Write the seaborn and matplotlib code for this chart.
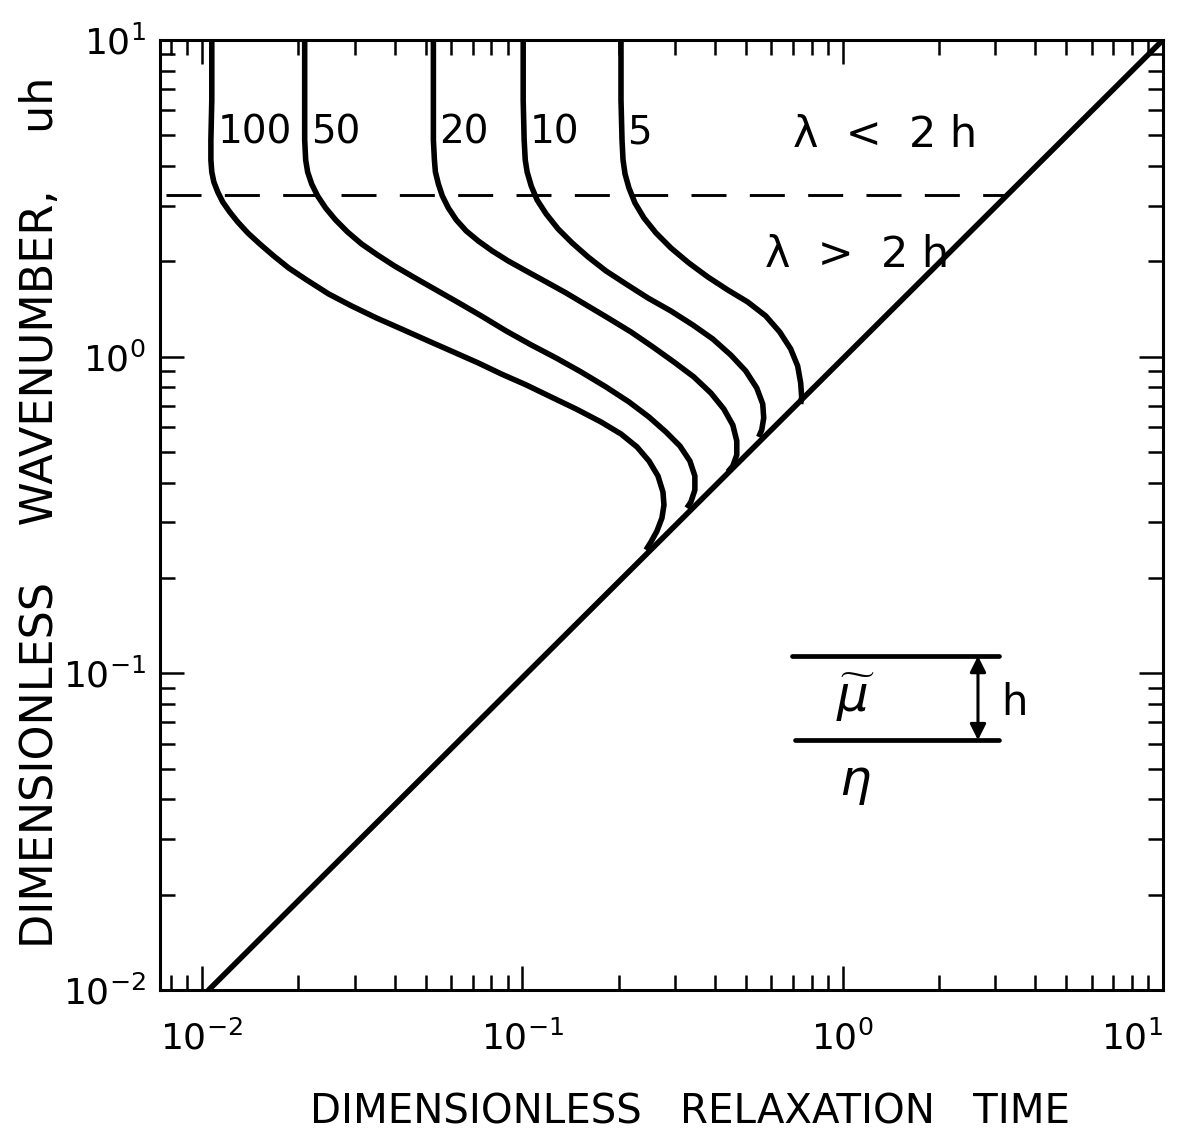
import numpy as np
import pandas as pd
import matplotlib
matplotlib.use("Agg")
import matplotlib.pyplot as plt
import seaborn as sns

# ---- data ----
curve_labels = ["100", "50", "20", "10", "5"]

c100_x = [0.01074, 0.01074, 0.01067, 0.01067, 0.01074, 0.01090, 0.01121, 0.01162, 0.01222,
          0.01294, 0.01391, 0.01516, 0.01676, 0.01866, 0.02124, 0.02487, 0.02933, 0.03508,
          0.04199, 0.05095, 0.06096, 0.07294, 0.08603, 0.1029, 0.1231, 0.1473, 0.1762,
          0.2034, 0.2282, 0.2487, 0.2653, 0.2750, 0.2770, 0.2730, 0.2634, 0.2523, 0.2434]
c100_y = [10, 6.465, 4.833, 4.179, 3.830, 3.561, 3.311, 3.079, 2.863,
          2.663, 2.459, 2.270, 2.080, 1.906, 1.747, 1.578, 1.446, 1.325,
          1.223, 1.121, 1.035, 0.9552, 0.8819, 0.8143, 0.7459, 0.6836, 0.6220,
          0.5700, 0.5187, 0.4685, 0.4200, 0.3738, 0.3401, 0.3095, 0.2815, 0.2600, 0.2453]

c50_x = [0.02094, 0.02094, 0.02094, 0.02109, 0.02139, 0.02202, 0.02298, 0.02434, 0.02615,
         0.02849, 0.03151, 0.03534, 0.03993, 0.04574, 0.05320, 0.06273, 0.07451, 0.08917,
         0.1067, 0.1276, 0.1527, 0.1826, 0.2154, 0.2487, 0.2810, 0.3106, 0.3337, 0.3459,
         0.3459, 0.3361, 0.3266]
c50_y = [10, 6.465, 4.833, 4.179, 3.830, 3.510, 3.217, 2.948, 2.702,
         2.476, 2.270, 2.095, 1.934, 1.785, 1.636, 1.488, 1.345, 1.205,
         1.089, 0.9905, 0.8948, 0.8024, 0.7196, 0.6449, 0.5783, 0.5224, 0.4685, 0.4200,
         0.3793, 0.3476, 0.3328]

c20_x = [0.05281, 0.05281, 0.05281, 0.05320, 0.05358, 0.05474, 0.05633, 0.05881, 0.06228,
         0.06688, 0.07294, 0.08063, 0.09046, 0.1029, 0.1188, 0.1371, 0.1583, 0.1853,
         0.2185, 0.2559, 0.2975, 0.3434, 0.3880, 0.4259, 0.4543, 0.4675, 0.4675, 0.4543,
         0.4382]
c20_y = [10, 6.465, 4.833, 4.179, 3.830, 3.510, 3.217, 2.948, 2.702,
         2.494, 2.319, 2.157, 2.005, 1.865, 1.722, 1.589, 1.457, 1.325,
         1.197, 1.073, 0.9622, 0.8629, 0.7679, 0.6836, 0.6085, 0.5418, 0.4894, 0.4518,
         0.4325]

c10_x = [0.1007, 0.1007, 0.1014, 0.1022, 0.1036, 0.1067, 0.1113, 0.1188, 0.1295, 0.1432,
         0.1606, 0.1826, 0.2109, 0.2469, 0.2912, 0.3410, 0.3936, 0.4478, 0.4986, 0.5396,
         0.5634, 0.5674, 0.5593, 0.5473]
c10_y = [10, 6.465, 4.833, 4.179, 3.830, 3.459, 3.125, 2.822, 2.530, 2.286,
         2.064, 1.865, 1.696, 1.532, 1.394, 1.259, 1.137, 1.012, 0.9012, 0.7965,
         0.7088, 0.6406, 0.5868, 0.5577]

c5_x = [0.2034, 0.2034, 0.2049, 0.2064, 0.2094, 0.2154, 0.2249, 0.2399, 0.2615, 0.2912,
        0.3313, 0.3797, 0.4382, 0.5058, 0.5755, 0.6364, 0.6887, 0.7241, 0.7400, 0.7453,
        0.7400]
c5_y = [10, 6.465, 4.833, 4.179, 3.775, 3.408, 3.057, 2.741, 2.459, 2.204,
        1.976, 1.785, 1.624, 1.488, 1.345, 1.197, 1.058, 0.9346, 0.8258, 0.7459,
        0.7088]

diag_x = [0.0105, 10.0]
diag_y = [0.01, 10.0]

dash_x = [0.0077, 3.25]
dash_y = [3.25, 3.25]

x_ticks = [0.01, 0.1, 1, 10]
y_ticks = [0.01, 0.1, 1, 10]

# ---- build long table ----
frames = []
for lab, xs, ys in zip(curve_labels,
                       [c100_x, c50_x, c20_x, c10_x, c5_x],
                       [c100_y, c50_y, c20_y, c10_y, c5_y]):
    frames.append(pd.DataFrame({"x": xs, "y": ys, "curve": lab}))
curves = pd.concat(frames, ignore_index=True)

sns.set_style("ticks")
plt.rcParams["font.family"] = ["DejaVu Sans"]
plt.rcParams["mathtext.fontset"] = "dejavusans"
for key in ["text.color", "axes.labelcolor", "xtick.color", "ytick.color", "axes.edgecolor"]:
    plt.rcParams[key] = "black"

fig = plt.figure(figsize=(11.78, 11.33), dpi=100)
ax = fig.add_axes([0.1358, 0.1262, 0.8514, 0.8385])
ax.set_xscale("log")
ax.set_yscale("log")
ax.set_xlim(0.0074, 10)
ax.set_ylim(0.01, 10)

sns.lineplot(data=curves, x="x", y="y", units="curve", estimator=None, sort=False,
             color="black", linewidth=4.0, ax=ax, legend=False)
for ln in ax.lines:
    ln.set_solid_joinstyle("round")
    ln.set_solid_capstyle("butt")

sns.lineplot(x=diag_x, y=diag_y, color="black", linewidth=4.0, ax=ax, sort=False)
sns.lineplot(x=dash_x, y=dash_y, color="black", linewidth=2.1, ax=ax, sort=False)
ax.lines[-1].set_dashes((12, 8))

# curve labels
for lab, xs in zip(curve_labels, [c100_x, c50_x, c20_x, c10_x, c5_x]):
    ax.text(xs[0] * 1.045, 5.1, lab, fontsize=28, ha="left", va="center")

ax.text(0.723, 0.90, "λ  <  2 h", transform=ax.transAxes, fontsize=31,
        ha="center", va="center")
ax.text(0.695, 0.774, "λ  >  2 h", transform=ax.transAxes, fontsize=31,
        ha="center", va="center")

# inset sketch
ax.plot([0.630, 0.837], [0.3516, 0.3516], color="black", lw=3.4, transform=ax.transAxes)
ax.plot([0.633, 0.837], [0.263, 0.263], color="black", lw=3.4, transform=ax.transAxes)
ax.annotate("", xy=(0.8156, 0.3516), xytext=(0.8156, 0.263), xycoords="axes fraction",
            arrowprops=dict(arrowstyle="<|-|>", color="black", lw=2.2,
                            mutation_scale=24, shrinkA=0, shrinkB=0))
ax.text(0.852, 0.302, "h", transform=ax.transAxes, fontsize=30, ha="center", va="center")
ax.text(0.693, 0.307, r"$\widetilde{\mu}$", transform=ax.transAxes, fontsize=36,
        ha="center", va="center")
ax.text(0.693, 0.218, r"$\eta$", transform=ax.transAxes, fontsize=36,
        ha="center", va="center")

ax.set_xticks(x_ticks)
ax.set_yticks(y_ticks)
ax.tick_params(which="both", direction="in", top=True, right=True, width=1.8)
ax.tick_params(which="major", length=17, labelsize=26)
ax.tick_params(which="minor", length=11)
ax.tick_params(axis="x", which="major", pad=22)
ax.tick_params(axis="y", which="major", pad=10)
ax.xaxis.get_major_ticks()[-1].label1.set_horizontalalignment("right")
for s in ax.spines.values():
    s.set_linewidth(2.2)

ax.set_xlabel("DIMENSIONLESS   RELAXATION   TIME", fontsize=29)
ax.set_ylabel("DIMENSIONLESS    WAVENUMBER,    uh", fontsize=32)
ax.xaxis.set_label_coords(0.528, -0.108)
ax.yaxis.set_label_coords(-0.098, 0.503)

fig.savefig("out.png", dpi=100)
